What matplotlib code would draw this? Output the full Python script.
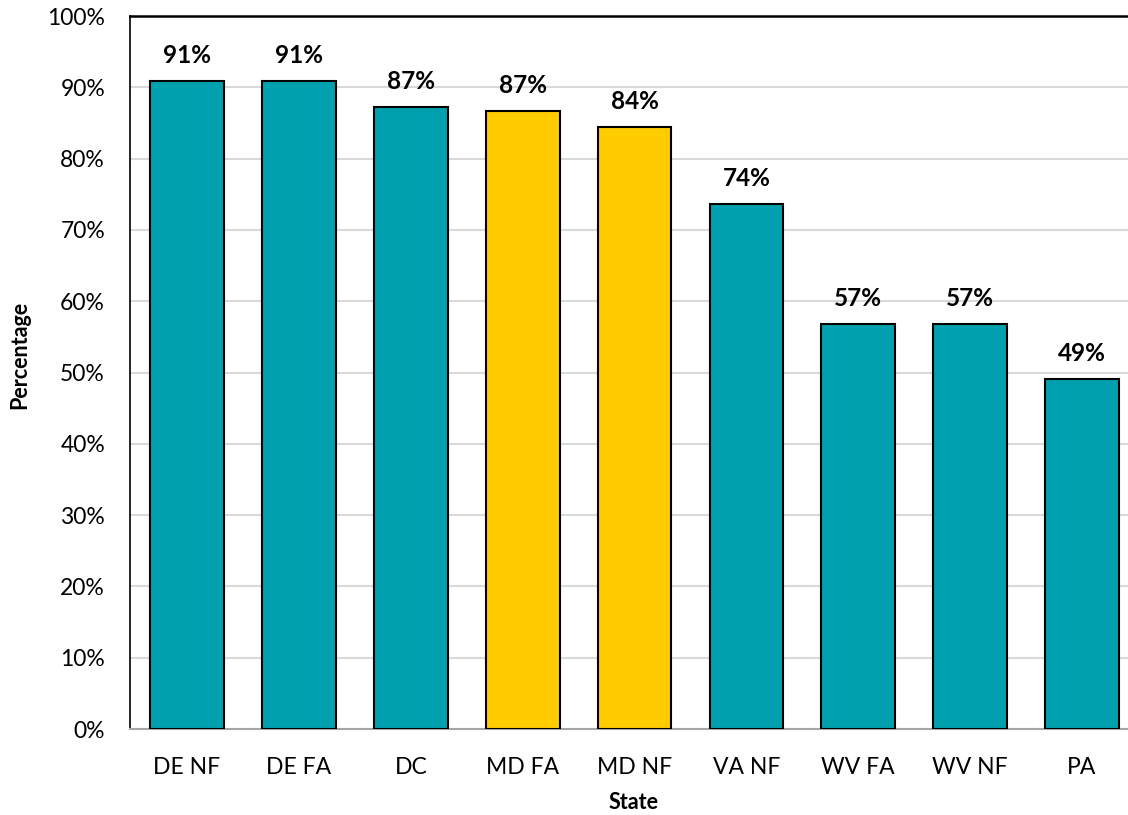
import matplotlib.pyplot as plt
from matplotlib.ticker import PercentFormatter

states = ["DE NF", "DE FA", "DC", "MD FA", "MD NF", "VA NF", "WV FA", "WV NF", "PA"]
values = [90.9, 90.9, 87.2, 86.7, 84.4, 73.6, 56.8, 56.8, 49.1]
labels = ["91%", "91%", "87%", "87%", "84%", "74%", "57%", "57%", "49%"]
highlight = ["MD FA", "MD NF"]

teal = "#00A0AE"
yellow = "#FFCC00"
colors = [yellow if s in highlight else teal for s in states]

plt.rcParams['font.family'] = ['Lato', 'DejaVu Sans']

fig = plt.figure(figsize=(11.28, 8.15), dpi=100)
# plot area runs past the right edge of the picture, as in the original
ax = fig.add_axes([130 / 1128, 1 - 729 / 815, 1008 / 1128, 713 / 815])

x = list(range(len(states)))
ax.bar(x, values, width=0.66, color=colors, edgecolor="black", linewidth=1.5, zorder=3)

for i, v in enumerate(values):
    ax.text(i, v + 2.0, labels[i], ha="center", va="bottom", fontsize=17.5, fontweight="bold")

ax.set_xlim(-0.51, 8.5)
ax.set_ylim(0, 100)
ax.set_yticks(range(0, 101, 10))
ax.yaxis.set_major_formatter(PercentFormatter(decimals=0))
ax.set_xticks(x)
ax.set_xticklabels(states)
ax.tick_params(axis="both", length=0, labelsize=16.5)
ax.tick_params(axis="x", pad=20)
ax.tick_params(axis="y", pad=18)
ax.grid(axis="y", color="#D9D9D9", linewidth=1.5, zorder=0)

ax.spines["left"].set_color("black")
ax.spines["left"].set_linewidth(1.2)
ax.spines["top"].set_color("black")
ax.spines["top"].set_linewidth(1.8)
ax.spines["bottom"].set_color("#A6A6A6")
ax.spines["bottom"].set_linewidth(1.5)

ax.set_xlabel("State", fontsize=15.5, fontweight="bold", labelpad=10)
ax.set_ylabel("Percentage", fontsize=15.5, fontweight="bold", labelpad=12, y=0.525)

plt.savefig("out.png", dpi=100)
